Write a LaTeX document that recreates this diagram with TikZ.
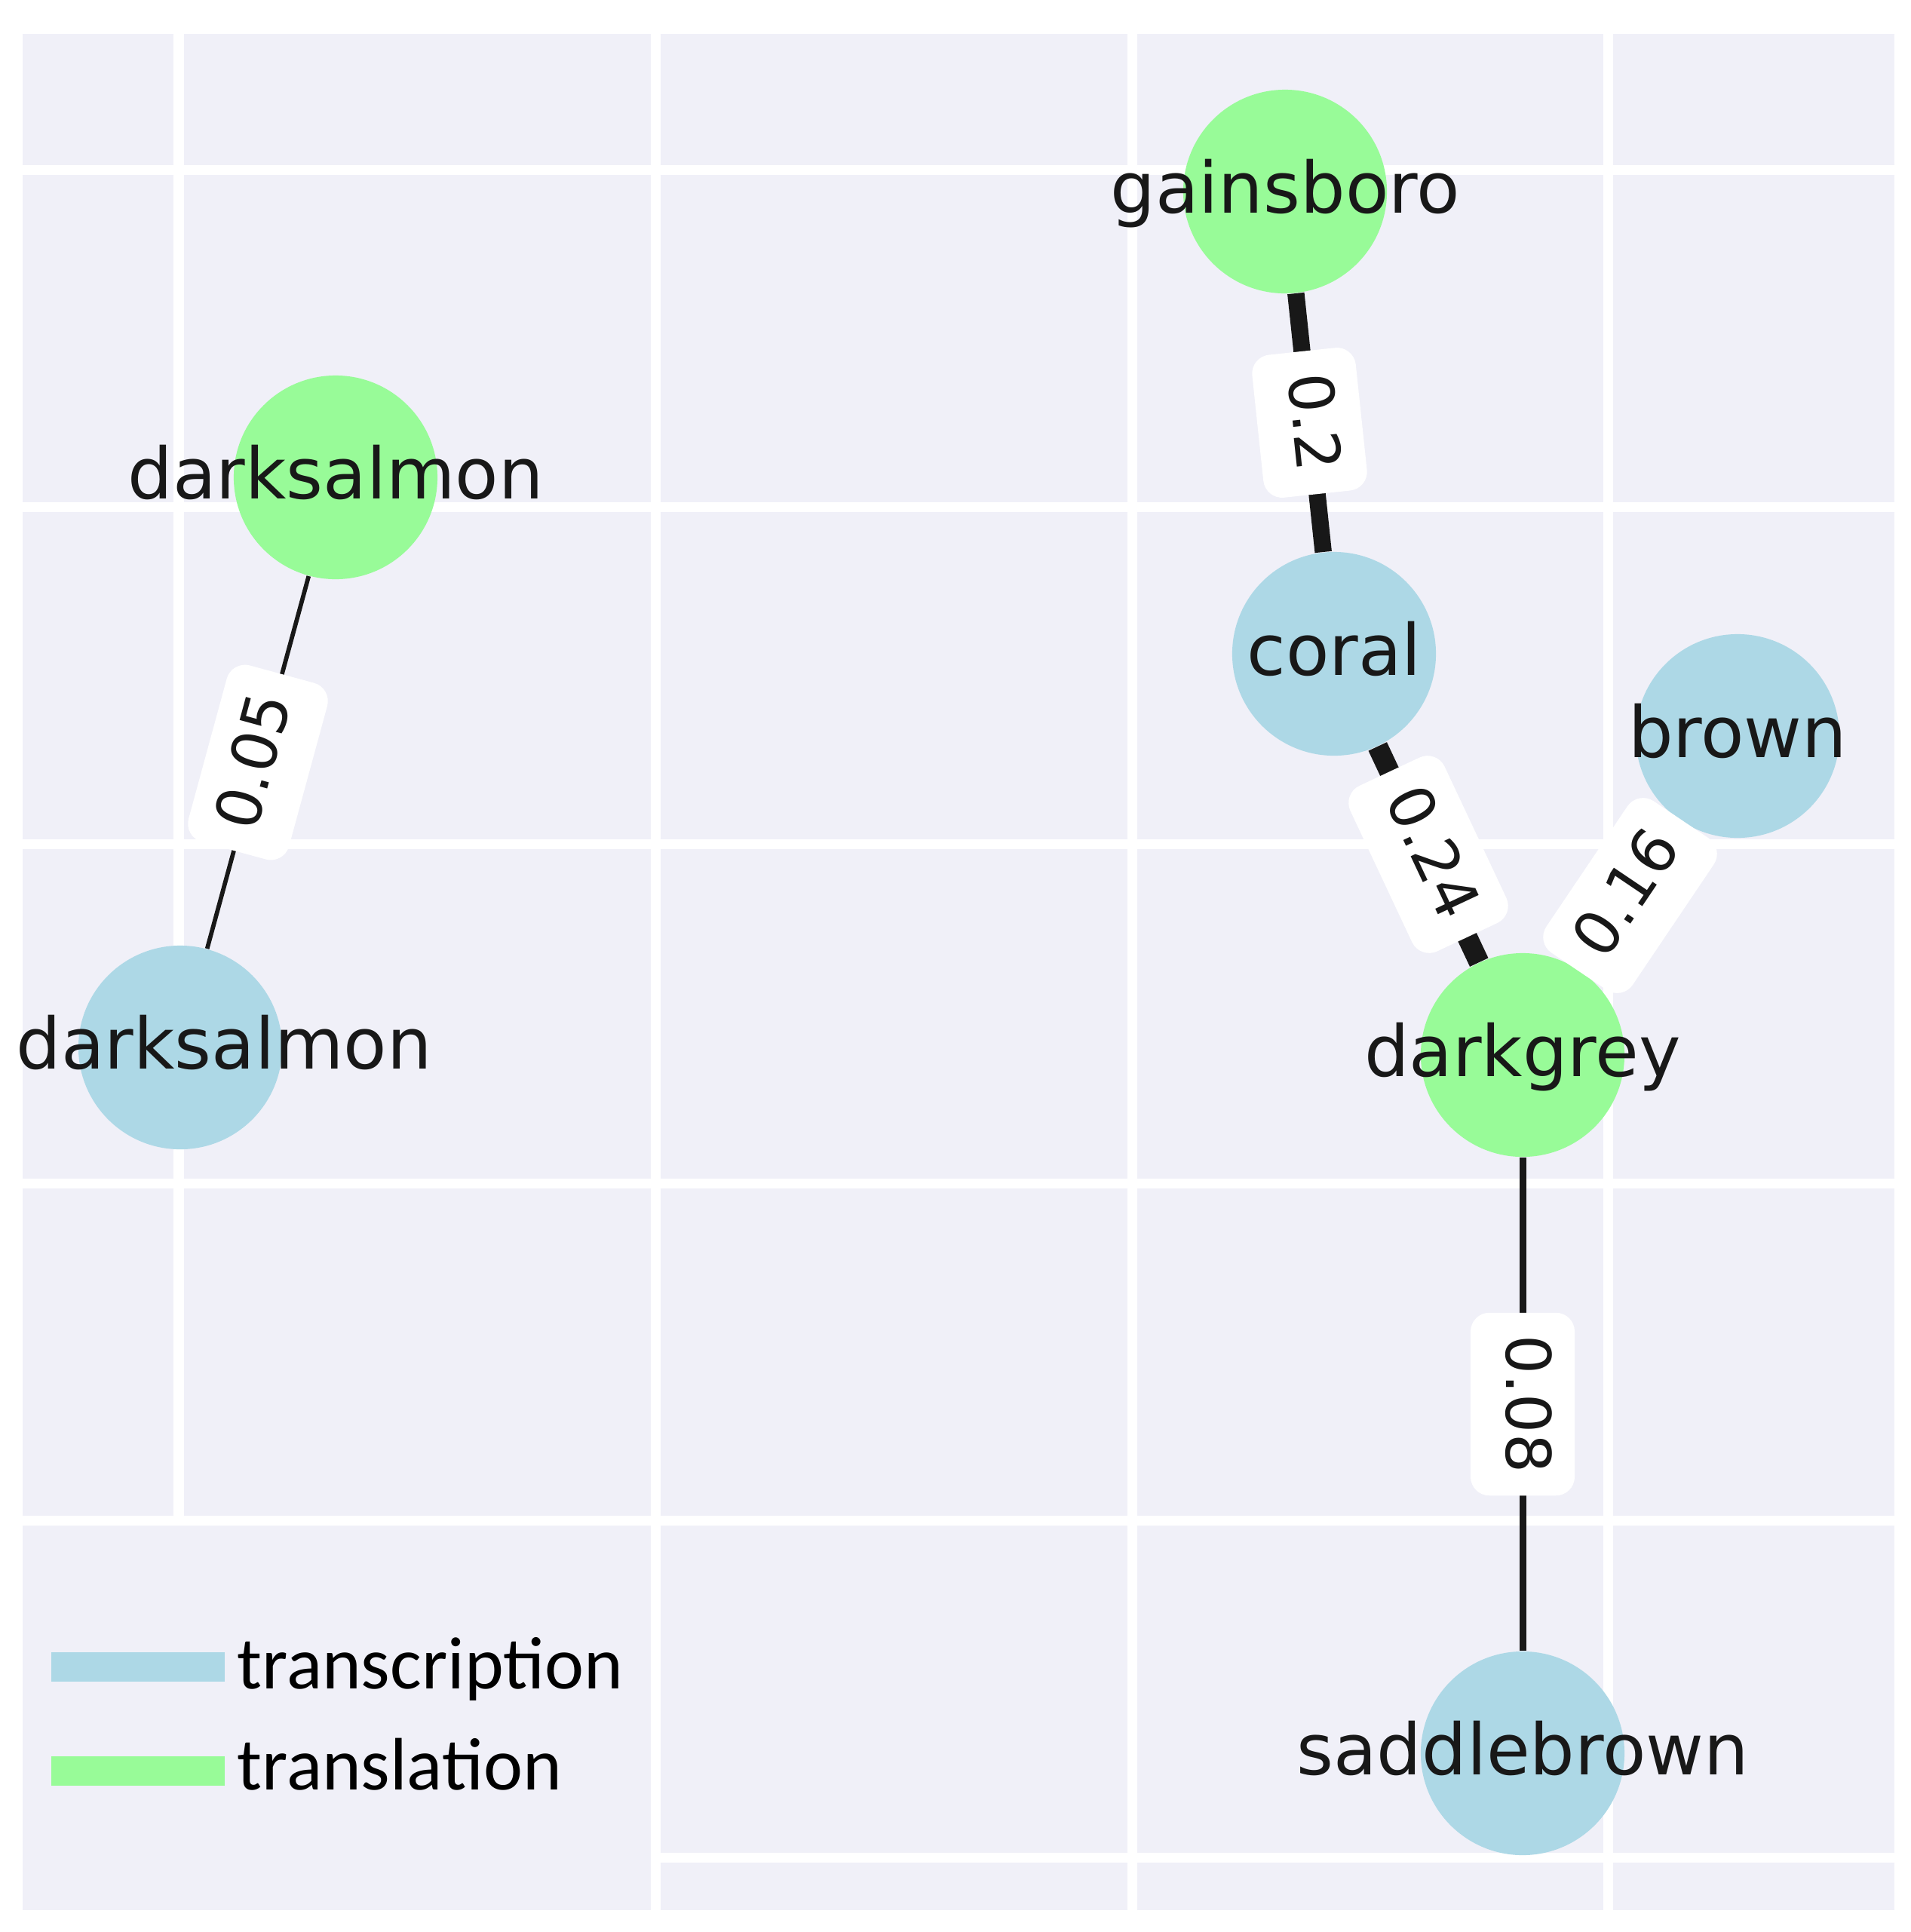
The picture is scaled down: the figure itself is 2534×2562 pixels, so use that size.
\documentclass[tikz,border=0pt]{standalone}
\usepackage{fontspec}
\setmainfont{DejaVu Sans}
\newfontfamily\legendfont{Carlito}
\usepackage{tikz}
\usetikzlibrary{positioning}

\definecolor{gridbg}{RGB}{240,240,248}
\definecolor{tcblue}{RGB}{173,216,230}
\definecolor{tlgreen}{RGB}{152,251,152}
\definecolor{inkgrey}{RGB}{24,24,24}

\tikzset{
  genelabel/.style={inner sep=0pt, text=inkgrey, font=\fontsize{26.7}{32}\selectfont, text height=0.75cm, text depth=0.19cm},
  gene/.style={circle, inner sep=0pt, minimum size=2.7cm},
  transcription/.style={gene, fill=tcblue, label={[genelabel]center:#1}},
  translation/.style={gene, fill=tlgreen, label={[genelabel]center:#1}},
  link/.style={draw=inkgrey, line width=#1},
  weight/.style={sloped, fill=white, rounded corners=0.25cm, text=inkgrey, font=\fontsize{23.3}{28}\selectfont, text height=0.66cm, text depth=0.22cm, inner xsep=0.3cm, inner ysep=0.25cm},
  gridline/.style={draw=white, line width=0.13cm},
  key/.style={anchor=base west, inner sep=0pt, text=black, font=\legendfont\fontsize{28}{34}\selectfont}
}

\begin{document}
\begin{tikzpicture}[x=0.01cm, y=-0.01cm]
  \useasboundingbox (0,0) rectangle (2534,2562);

  % background grid
  \fill[gridbg] (30,45) rectangle (2512,2533);
  \foreach \gx in {869,1501,2132}
    \draw[gridline] (\gx,45) -- (\gx,2533);
  \draw[gridline] (237,45) -- (237,2016);
  \foreach \gy in {225,672,1119,1569,2016}
    \draw[gridline] (30,\gy) -- (2512,\gy);
  \draw[gridline] (869,2463) -- (2512,2463);

  % genes
  \node[translation=darksalmon] (dsTl) at (445,633) {};
  \node[gene, fill=tcblue, label={[genelabel, xshift=0.58cm]center:darksalmon}] (dsTc) at (239,1389) {};
  \node[translation=gainsboro] (gainsboro) at (1704,254) {};
  \node[transcription=coral] (coral) at (1769,867) {};
  \node[transcription=brown] (brown) at (2304,976) {};
  \node[translation=darkgrey] (darkgrey) at (2019,1399) {};
  \node[transcription=saddlebrown] (saddlebrown) at (2019,2325) {};

  % weighted links
  \draw[link=0.057cm] (dsTl) -- node[weight] {0.05} (dsTc);
  \draw[link=0.225cm] (gainsboro) -- node[weight] {0.2} (coral);
  \draw[link=0.27cm] (coral) -- node[weight] {0.24} (darkgrey);
  \draw[link=0.18cm] (brown) -- node[weight] {0.16} (darkgrey);
  \draw[link=0.09cm] (darkgrey) -- node[weight] {0.08} (saddlebrown);

  % legend
  \fill[tcblue] (68,2191) rectangle (298,2230);
  \node[key] (keyTc) at (314,2239) {transcription};
  \fill[tlgreen] (68,2329) rectangle (298,2368);
  \node[key] (keyTl) at (314,2373) {translation};
\end{tikzpicture}
\end{document}
